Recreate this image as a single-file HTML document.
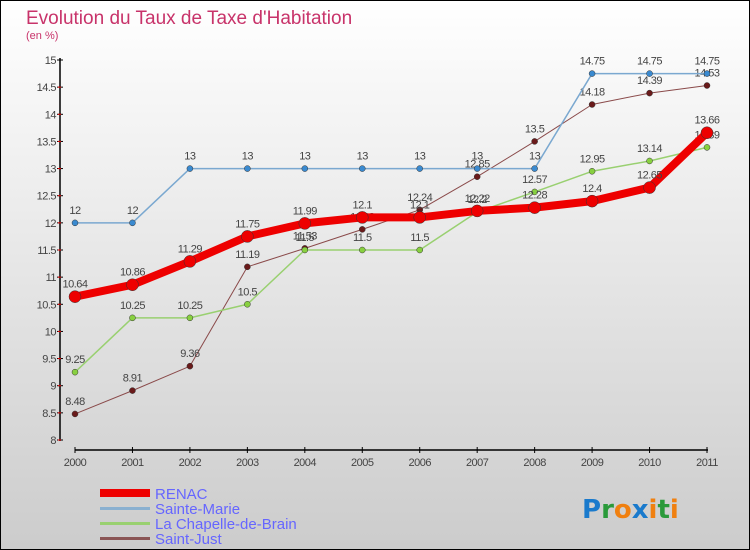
<!DOCTYPE html>
<html><head><meta charset="utf-8"><style>
body{margin:0}
#c{width:750px;height:550px;position:relative;box-sizing:border-box;border:1px solid #000;background:linear-gradient(#ffffff,#cccccc);font-family:"Liberation Sans",sans-serif;overflow:hidden}
</style></head><body>
<div id="c">
<svg id="s" width="750" height="550" style="position:absolute;left:-1px;top:-1px">
<text x="26" y="24" font-size="19" fill="#c8336a">Evolution du Taux de Taxe d'Habitation</text>
<text x="26" y="39" font-size="11" fill="#c8336a">(en %)</text>
<g id="ax"></g><g id="series"></g>
<g>
<rect x="100" y="489" width="50" height="8" fill="#e00"/>
<text x="155" y="499" font-size="15" fill="#6666ff">RENAC</text>
<rect x="100" y="507" width="50" height="3" fill="#8ab0d0"/>
<text x="155" y="514" font-size="15" fill="#6666ff">Sainte-Marie</text>
<rect x="100" y="522" width="50" height="3" fill="#99d070"/>
<text x="155" y="529" font-size="15" fill="#6666ff">La Chapelle-de-Brain</text>
<rect x="100" y="537" width="50" height="3" fill="#8a5555"/>
<text x="155" y="544" font-size="15" fill="#6666ff">Saint-Just</text>
</g>
<text x="582" y="518" font-size="26" font-family="DejaVu Sans" font-weight="bold"><tspan fill="#1a7acc">P</tspan><tspan fill="#2a9a3a">r</tspan><tspan fill="#f08010">o</tspan><tspan fill="#1a7acc">x</tspan><tspan fill="#f08010">i</tspan><tspan fill="#2a9a3a">t</tspan><tspan fill="#f08010">i</tspan></text>
</svg></div>
<script>
const years=["2000","2001","2002","2003","2004","2005","2006","2007","2008","2009","2010","2011"];
const yTicks=[8,8.5,9,9.5,10,10.5,11,11.5,12,12.5,13,13.5,14,14.5,15];
const renac=[10.64,10.86,11.29,11.75,11.99,12.1,12.1,12.22,12.28,12.4,12.65,13.66];
const sainteMarie=[12,12,13,13,13,13,13,13,13,14.75,14.75,14.75];
const chapelle=[9.25,10.25,10.25,10.5,11.5,11.5,11.5,12.2,12.57,12.95,13.14,13.39];
const saintJust=[8.48,8.91,9.36,11.19,11.53,11.88,12.24,12.85,13.5,14.18,14.39,14.53];
const NS="http://www.w3.org/2000/svg";
const X=i=>75+i*(707-75)/11, Y=v=>440-(v-8)*(380/7);
function mk(t,a,p){const e=document.createElementNS(NS,t);for(const k in a)e.setAttribute(k,a[k]);p.appendChild(e);return e;}
const ax=document.getElementById('ax');
let l=mk('line',{x1:60,y1:58,x2:60,y2:441,stroke:'#000','stroke-width':1.5},ax);

l=mk('line',{x1:75,y1:450,x2:708,y2:450,stroke:'#000','stroke-width':1.5},ax);

yTicks.forEach(v=>{const y=Y(v);mk('line',{x1:57,x2:63,y1:y,y2:y,stroke:'#000'},ax);
 mk('line',{x1:58,x2:61,y1:y+27.14/1,y2:y+27.14,stroke:v>8?'#e00':'none'},ax);
 const t=mk('text',{x:56,y:y+4,'font-size':11,fill:'#444','text-anchor':'end','letter-spacing':'-0.5'},ax);t.textContent=String(v);
 });
years.forEach((yr,i)=>{const x=X(i);mk('line',{x1:x,x2:x,y1:447,y2:453,stroke:'#000'},ax);
 const t=mk('text',{x:x,y:466,'font-size':11,fill:'#444','text-anchor':'middle','letter-spacing':'-0.5'},ax);t.textContent=yr;
 });
const sg=document.getElementById('series');
function draw(d,name,col,w,r,fill){const g=mk('g',{},sg);
 
 mk('polyline',{points:d.map((v,i)=>X(i)+','+Y(v)).join(' '),fill:'none',stroke:col,'stroke-width':w,'stroke-linejoin':'round'},g);
 d.forEach((v,i)=>{const c=mk('circle',{cx:X(i),cy:Y(v),r:r,fill:fill,stroke:'#333','stroke-width':0.5},g);
  
  const t=mk('text',{x:X(i),y:Y(v)-9,'font-size':11,fill:'#444','text-anchor':'middle','letter-spacing':'-0.5'},g);t.textContent=String(v);
  });}
draw(saintJust,'saint-just','#8a4a4a',1,3,'#6a1a1a');
draw(chapelle,'la-chapelle-de-brain','#99d070',1.5,3,'#88d040');
draw(sainteMarie,'sainte-marie','#7aa8d0',1.5,3,'#3a8ad0');
draw(renac,'renac','#ee0000',8,6,'#ee0000');
</script>
</body></html>
